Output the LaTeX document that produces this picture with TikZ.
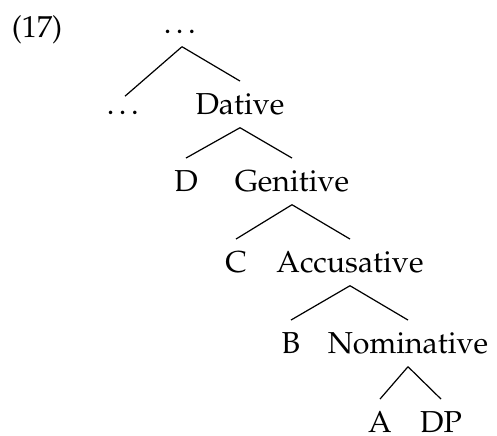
\documentclass[tikz,border=0pt]{standalone}
\usepackage[T1]{fontenc}
\usepackage{mathpazo}

\begin{document}
\begin{tikzpicture}[x=0.33pt,y=-0.33pt,main/.style = {anchor=base, inner xsep=0pt, inner ysep=4pt, text height=7pt, text depth=0pt}, dots/.style = {main, text height=2pt}]
\useasboundingbox (0,0) rectangle (497,436);
\node[anchor=base] (ex) at (37,38) {(17)};
\node[dots] (0) at (182,34) {\dots};
\node[dots] (1) at (125,115) {\dots};
\node[main] (2) at (240,115) {Dative};
\node[main] (3) at (186,192) {D};
\node[main] (4) at (292,192) {Genitive};
\node[main] (5) at (236,273) {C};
\node[main] (6) at (350,273) {Accusative};
\node[main] (7) at (291,354) {B};
\node[main] (8) at (408,354) {Nominative};
\node[main] (9) at (380,433) {A};
\node[main] (10) at (441,433) {DP};

 \path
    % top
    (0.south) edge (1.north)
    (0.south) edge (2.north)
    % Dative
    (2.south) edge (3.north)
    (2.south) edge (4.north)
    % Genitive
    (4.south) edge (5.north)
    (4.south) edge (6.north)
    % Accusative
    (6.south) edge (7.north)
    (6.south) edge (8.north)
    % Nominative
    (8.south) edge (9.north)
    (8.south) edge (10.north)
 ;
\end{tikzpicture}
\end{document}
